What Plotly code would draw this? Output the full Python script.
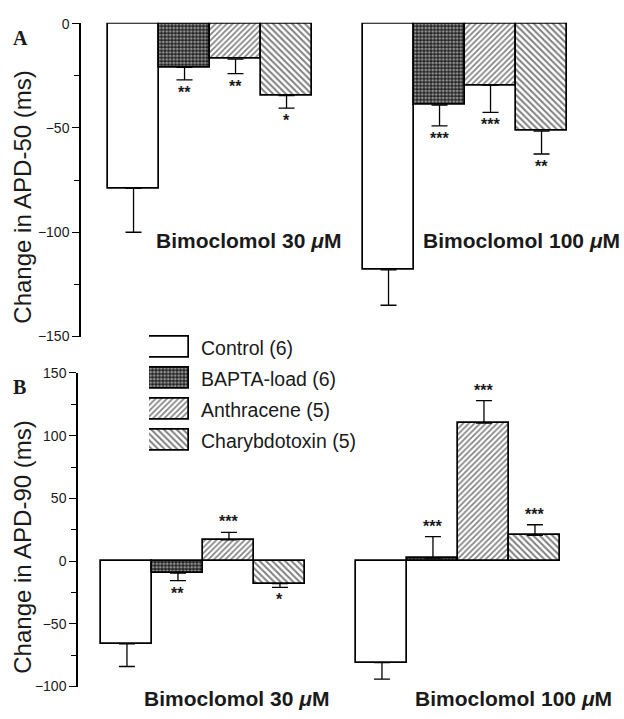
import plotly.graph_objects as go

W, H = 624, 719

# ---------------- data ----------------
treatments = ["Control (6)", "BAPTA-load (6)", "Anthracene (5)", "Charybdotoxin (5)"]
doses = ["Bimoclomol 30 <i>μ</i>M", "Bimoclomol 100 <i>μ</i>M"]

# Panel A: change in APD-50 (ms), one value per treatment
apd50_30 = [-79, -21, -17, -34.5]
apd50_30_err = [21, 6, 7, 6]
apd50_100 = [-118, -39, -29.5, -51.5]
apd50_100_err = [17, 10, 13, 11]
apd50_30_sig = ["", "**", "**", "*"]
apd50_100_sig = ["", "***", "***", "**"]

# Panel B: change in APD-90 (ms)
apd90_30 = [-66, -9.5, 17, -18]
apd90_30_err = [18, 6, 6, 3]
apd90_100 = [-81, 2.5, 110, 20.5]
apd90_100_err = [13, 17, 18, 8.5]
apd90_30_sig = ["", "**", "***", "*"]
apd90_100_sig = ["", "***", "***", "***"]

apd50_ticks = [0, -50, -100, -150]
apd90_ticks = [150, 100, 50, 0, -50, -100]

# ---------------- styles ----------------
patterns = [
    dict(shape=""),
    dict(shape=".", size=3.5, solidity=0.5, fgcolor="white", bgcolor="#222222"),
    dict(shape="/", size=4, solidity=0.4, fgcolor="black", bgcolor="white"),
    dict(shape="\\", size=4.5, solidity=0.45, fgcolor="black", bgcolor="white"),
]
GROUP_GAP = 5  # second dose group starts 5 bar-widths after the first
FONT = "Arial, Liberation Sans, sans-serif"
INK = "#1a1a1a"

fig = go.Figure()


def add_panel(v30, e30, v100, e100, s30, s100, xa, ya):
    for i, name in enumerate(treatments):
        vals = [v30[i], v100[i]]
        errs = [e30[i], e100[i]]
        xs = [i, GROUP_GAP + i]
        plus = [e if v > 0 else 0 for v, e in zip(vals, errs)]
        minus = [e if v <= 0 else 0 for v, e in zip(vals, errs)]
        fig.add_trace(go.Bar(
            x=xs, y=vals, width=1.0, name=name, showlegend=False,
            xaxis=xa, yaxis=ya,
            marker=dict(color="white", line=dict(color="black", width=1.7),
                        pattern=patterns[i]),
            error_y=dict(type="data", symmetric=False, array=plus,
                         arrayminus=minus, color="black", thickness=1.3,
                         width=8),
        ))
        for x, v, e, s in zip(xs, vals, errs, [s30[i], s100[i]]):
            if not s:
                continue
            if v > 0:
                fig.add_annotation(x=x, y=v + e, xref=xa, yref=ya, text=f"<b>{s}</b>",
                                   showarrow=False, yanchor="bottom", yshift=0,
                                   font=dict(family=FONT, size=16, color=INK))
            else:
                fig.add_annotation(x=x, y=v - e, xref=xa, yref=ya, text=f"<b>{s}</b>",
                                   showarrow=False, yanchor="top", yshift=-2,
                                   font=dict(family=FONT, size=16, color=INK))


add_panel(apd50_30, apd50_30_err, apd50_100, apd50_100_err,
          apd50_30_sig, apd50_100_sig, "x", "y")
add_panel(apd90_30, apd90_30_err, apd90_100, apd90_100_err,
          apd90_30_sig, apd90_100_sig, "x2", "y2")

# legend boxes drawn as bars on their own small axis
for i, name in enumerate(treatments):
    fig.add_trace(go.Bar(
        x=[1], y=[i], base=0, orientation="h", width=0.65, showlegend=False,
        xaxis="x3", yaxis="y3",
        marker=dict(color="white", line=dict(color="black", width=1.7),
                    pattern=patterns[i]),
    ))
    fig.add_annotation(x=199 / W, y=1 - (348 + 31.7 * i) / H, xref="paper",
                       yref="paper", text=name, showarrow=False,
                       xanchor="left", yanchor="middle",
                       font=dict(family=FONT, size=19.5, color=INK))


def px_x(p):
    return p / W


def px_y(p):
    return 1 - p / H


axis_common = dict(showgrid=False, zeroline=False, showline=True,
                   linecolor="black", linewidth=1.5, ticks="outside",
                   ticklen=7, tickwidth=1.3, tickcolor="black",
                   tickfont=dict(family=FONT, size=14, color=INK),
                   minor=dict(ticks="outside", ticklen=5, tickwidth=1.2,
                              tickcolor="black", dtick=25))

fig.update_layout(
    width=W, height=H, margin=dict(l=0, r=0, t=0, b=0),
    paper_bgcolor="white", plot_bgcolor="rgba(0,0,0,0)",
    bargap=0, barmode="overlay",
    xaxis=dict(domain=[px_x(81), px_x(600)], range=[-1.03, -1.03 + 519 / 51],
               visible=False),
    yaxis=dict(domain=[px_y(336), px_y(15)], range=[-150, 0.47],
               tickvals=apd50_ticks, anchor="x", **axis_common),
    xaxis2=dict(domain=[px_x(78), px_x(600)], range=[-0.96, -0.96 + 522 / 51],
                visible=False, anchor="y2"),
    yaxis2=dict(domain=[px_y(694), px_y(373.3)], range=[-100, 150],
                tickvals=apd90_ticks, anchor="x2", **axis_common),
    xaxis3=dict(domain=[px_x(149), px_x(189)], range=[0, 1], visible=False,
                anchor="y3"),
    yaxis3=dict(domain=[px_y(347 + 31.7 * 3.5), px_y(347 - 31.7 * 0.5)],
                range=[3.5, -0.5], visible=False, anchor="x3"),
    showlegend=False,
)

# dose labels
for (xp, yp, txt) in [(154, 238, doses[0]), (421, 238, doses[1]),
                      (142, 706, doses[0]), (413, 706, doses[1])]:
    fig.add_annotation(x=px_x(xp), y=px_y(yp), xref="paper", yref="paper",
                       text=f"<b>{txt}</b>", showarrow=False, xanchor="left",
                       yanchor="middle",
                       font=dict(family=FONT, size=21, color=INK))

# y-axis titles
for (yp, txt) in [(194, "Change in APD-50 (ms)"), (552, "Change in APD-90 (ms)")]:
    fig.add_annotation(x=px_x(23), y=px_y(yp), xref="paper", yref="paper",
                       text=txt, textangle=-90, showarrow=False,
                       xanchor="center", yanchor="middle",
                       font=dict(family=FONT, size=24, color=INK))

# panel letters
for (yp, txt) in [(31, "A"), (388, "B")]:
    fig.add_annotation(x=px_x(11), y=px_y(yp), xref="paper", yref="paper",
                       text=f"<b>{txt}</b>", showarrow=False, xanchor="left",
                       yanchor="middle",
                       font=dict(family="Liberation Serif, Times New Roman, serif",
                                 size=20, color=INK))

fig.write_html("out.html", config={"displayModeBar": False},
               post_script="document.body.style.margin='0';")
